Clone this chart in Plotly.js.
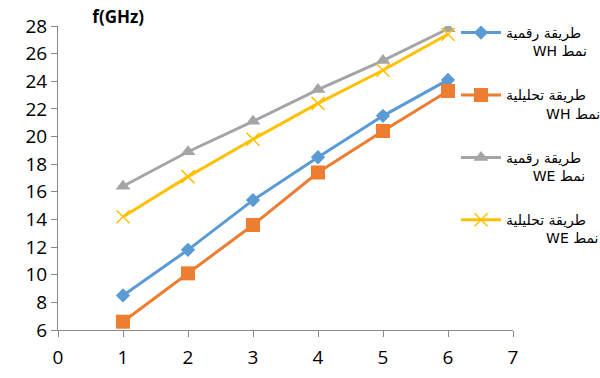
<!DOCTYPE html>
<html>
<head>
<meta charset="utf-8">
<script src="https://cdn.plot.ly/plotly-3.0.1.min.js"></script>
<style>html,body{margin:0;padding:0;background:#fff;}#chart{width:600px;height:378px;}</style>
</head>
<body>
<div id="chart"></div>
<script>
const xValues = [1, 2, 3, 4, 5, 6];
const numericWH = [8.5, 11.8, 15.4, 18.5, 21.5, 24.1];
const analyticWH = [6.6, 10.1, 13.6, 17.4, 20.4, 23.3];
const numericWE = [16.4, 18.9, 21.1, 23.4, 25.5, 27.8];
const analyticWE = [14.2, 17.1, 19.8, 22.4, 24.8, 27.4];
const pad6 = '\u00A0'.repeat(6);
const pad9 = '\u00A0'.repeat(9);
const seriesNames = [
  'طريقة رقمية<br>' + pad6 + 'WH نمط',
  'طريقة تحليلية<br>' + pad9 + 'WH نمط',
  'طريقة رقمية<br>' + pad6 + 'WE نمط',
  'طريقة تحليلية<br>' + pad9 + 'WE نمط'
];
const yTicks = [6, 8, 10, 12, 14, 16, 18, 20, 22, 24, 26, 28];
const xTicks = [0, 1, 2, 3, 4, 5, 6, 7];

const colors = ['#5B9BD5', '#ED7D31', '#A5A5A5', '#FFC000'];
const symbols = ['diamond', 'square', 'triangle-up', 'x-thin-open'];
const sizes = [11, 14, 13, 13];
const ys = [numericWH, analyticWH, numericWE, analyticWE];

const data = ys.map((y, i) => ({
  x: xValues, y: y, name: seriesNames[i], type: 'scatter', mode: 'lines+markers',
  legendgroup: 'g' + i,
  line: {color: colors[i], width: 3},
  marker: {symbol: symbols[i], size: sizes[i], color: colors[i], line: {color: colors[i], width: i === 3 ? 1.5 : 0}}
}));

const layout = {
  width: 600, height: 378,
  margin: {l: 58, r: 87, t: 26, b: 48, autoexpand: false},
  paper_bgcolor: '#fff', plot_bgcolor: '#fff',
  font: {family: 'Open Sans, DejaVu Sans, sans-serif', color: '#000'},
  title: {text: '<b>f(GHz)</b>', x: 0.197, xanchor: 'center', xref: 'container', y: 0.955, yanchor: 'middle', yref: 'container', font: {size: 17, color: '#000'}},
  xaxis: {range: [0, 7], tickvals: xTicks, ticktext: xTicks.map(String), showgrid: false, zeroline: false,
    showline: true, linecolor: '#898989', linewidth: 1, ticks: 'outside', ticklen: 6, tickcolor: '#898989',
    ticklabelstandoff: 4, tickfont: {size: 19, color: '#000'}},
  yaxis: {range: [6, 28], tickvals: yTicks, ticktext: yTicks.map(String), showgrid: false, zeroline: false,
    showline: true, linecolor: '#898989', linewidth: 1, ticks: 'outside', ticklen: 6, tickcolor: '#898989',
    tickfont: {size: 19, color: '#000'}},
  showlegend: true,
  legend: {xref: 'container', yref: 'container', x: 0.76, xanchor: 'left', y: 0.955, yanchor: 'top', bgcolor: 'rgba(0,0,0,0)',
    maxheight: 378,
    font: {size: 14, color: '#000', family: 'DejaVu Sans, sans-serif'}, valign: 'top', tracegroupgap: 23, itemwidth: 40}
};

Plotly.newPlot('chart', data, layout, {displayModeBar: false, staticPlot: true});
</script>
</body>
</html>
